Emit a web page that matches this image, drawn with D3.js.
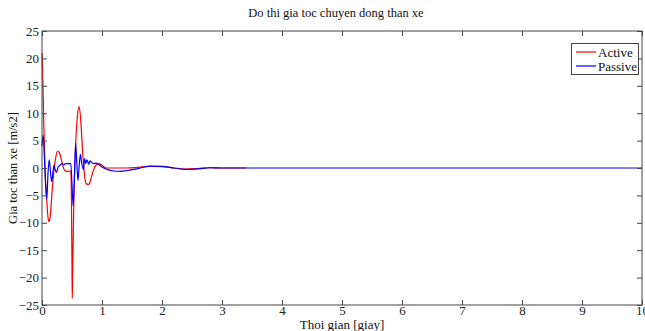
<!DOCTYPE html>
<html><head><meta charset="utf-8">
<script src="https://cdn.jsdelivr.net/npm/d3@7"></script>
<style>html,body{margin:0;padding:0;background:#fff;}svg{display:block;font-family:"Liberation Serif","Times New Roman",serif;}</style>
</head><body>
<svg id="c" width="645" height="331"></svg>
<script>
const title = "Do thi gia toc chuyen dong than xe";
const xLabel = "Thoi gian [giay]";
const yLabel = "Gia toc than xe [m/s2]";
const seriesNames = ["Active", "Passive"];
const seriesColors = ["#ff0000", "#0000ff"];
const xTicks = [0,1,2,3,4,5,6,7,8,9,10];
const yTicks = [-25,-20,-15,-10,-5,0,5,10,15,20,25];

const activeT = [0,0.01,0.03,0.05,0.08,0.1,0.12,0.14,0.17,0.2,0.23,0.26,0.29,0.33,0.37,0.41,0.45,0.48,0.49,0.5,0.505,0.51,0.53,0.56,0.59,0.62,0.65,0.68,0.71,0.74,0.78,0.82,0.86,0.9,0.95,1.0,1.05,1.1,1.2,1.4,1.6,1.8,2.0,2.2,2.4,2.6,2.8,3.0,3.2,3.4];
const activeV = [21,18,8,0,-6,-9,-9.8,-8.5,-4,-0.5,2,3.1,2.8,1.2,-0.3,-0.6,-0.6,-0.5,-5,-18,-23.8,-20,-6,4,9.5,11.2,8,2.5,-1.5,-2.9,-3,-1.8,-0.3,0.5,0.8,0.5,0.1,0,0,0,0.1,0.3,0.25,0,-0.2,-0.1,0.05,0,0,0];

const passiveT = [0,0.02,0.04,0.06,0.08,0.1,0.12,0.14,0.16,0.18,0.2,0.22,0.24,0.27,0.3,0.33,0.36,0.4,0.44,0.48,0.5,0.52,0.54,0.56,0.58,0.6,0.62,0.64,0.66,0.69,0.71,0.73,0.75,0.78,0.8,0.83,0.86,0.9,0.95,1.0,1.1,1.2,1.3,1.4,1.6,1.8,2.0,2.2,2.4,2.6,2.8,3.0,3.5,4,10];
const passiveV = [4,6,2,-3,-5.7,-1,1.5,-0.5,-2.5,-1,0.5,-0.3,-0.8,0.2,0.5,0.8,0.6,0.8,0.8,0.8,-3,-7,-2,4.5,1,-2.3,0.5,2.5,1,-0.3,1.7,0.8,1.5,0.7,1.3,1.0,0.8,0.9,0.6,0.2,-0.3,-0.55,-0.6,-0.5,-0.1,0.35,0.3,0,-0.25,-0.15,0.05,0,0,0,0];

const svg = d3.select("#c");
const L = 42, R = 642, T = 31, B = 305;
const x = d3.scaleLinear().domain([0,10]).range([L,R]);
const y = d3.scaleLinear().domain([-25,25]).range([B,T]);
const axisColor = "#444";

const line = d3.line().x(d=>x(d[0])).y(d=>y(d[1])).curve(d3.curveMonotoneX);
const series = [
  d3.zip(activeT, activeV),
  d3.zip(passiveT, passiveV)
];
series.forEach((s,i)=>{
  svg.append("path").datum(s).attr("d", line).attr("fill","none")
    .attr("stroke", seriesColors[i]).attr("stroke-width", 1.2);
});

// axes box
svg.append("rect").attr("x",L).attr("y",T).attr("width",R-L).attr("height",B-T)
  .attr("fill","none").attr("stroke",axisColor).attr("stroke-width",1);

const xb = d3.axisBottom(x).tickValues(xTicks).tickSize(-5).tickPadding(1).tickFormat(d3.format("d"));
const gx = svg.append("g").attr("transform",`translate(0,${B})`).call(xb);
const xt = d3.axisTop(x).tickValues(xTicks).tickSize(-5).tickFormat("");
const gxt = svg.append("g").attr("transform",`translate(0,${T})`).call(xt);
const yl = d3.axisLeft(y).tickValues(yTicks).tickSize(-5).tickPadding(3).tickFormat(d3.format("d"));
const gy = svg.append("g").attr("transform",`translate(${L},0)`).call(yl);
const yr = d3.axisRight(y).tickValues(yTicks).tickSize(-5).tickFormat("");
const gyr = svg.append("g").attr("transform",`translate(${R},0)`).call(yr);
[gx,gxt,gy,gyr].forEach(g=>{
  g.select(".domain").remove();
  g.selectAll("line").attr("stroke",axisColor);
  g.selectAll("text").attr("fill","#222").style("font-family","Liberation Serif, serif").style("font-size","13px");
});

svg.append("text").attr("x",(L+R)/2 - 6).attr("y",17).attr("text-anchor","middle")
  .style("font-size","12.5px").attr("fill","#111").text(title);
svg.append("text").attr("x",(L+R)/2).attr("y",329).attr("text-anchor","middle")
  .style("font-size","13px").attr("fill","#111").text(xLabel);
svg.append("text").attr("transform",`translate(17,${(T+B)/2}) rotate(-90)`).attr("text-anchor","middle")
  .style("font-size","12.5px").attr("fill","#111").text(yLabel);

// legend
const lg = svg.append("g");
lg.append("rect").attr("x",571.5).attr("y",43.5).attr("width",67).attr("height",31)
  .attr("fill","#fff").attr("stroke",axisColor).attr("stroke-width",1);
seriesNames.forEach((n,i)=>{
  const yy = 52 + i*14;
  lg.append("line").attr("x1",576).attr("x2",596).attr("y1",yy).attr("y2",yy)
    .attr("stroke",seriesColors[i]).attr("stroke-width",1.2);
  lg.append("text").attr("x",598).attr("y",yy+4.5).style("font-size","13px").attr("fill","#111").text(n);
});
</script>
</body></html>
